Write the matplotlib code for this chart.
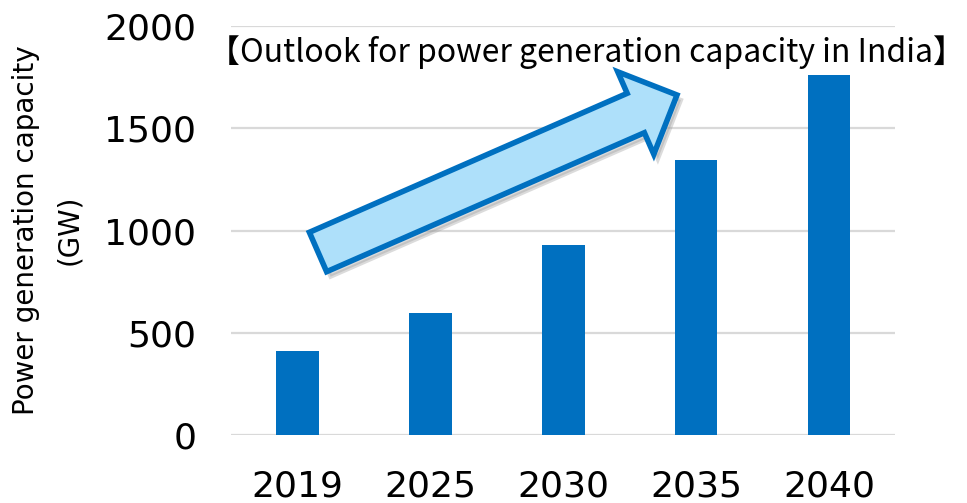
import matplotlib
matplotlib.use('Agg')

import matplotlib.pyplot as plt
from matplotlib.patches import FancyArrow
import numpy as np

##########
years = ['2019', '2025', '2030', '2035', '2040']
capacity_gw = [411, 597, 929, 1345, 1760]
yticks = [0, 500, 1000, 1500, 2000]

title_txt = '【Outlook for power generation capacity in India】'
ylabel_txt = 'Power generation capacity\n(GW)'

##########
BLUE = '#0070C0'
LIGHT = '#AEE0FA'
GRID = '#D9D9D9'

fig = plt.figure(figsize=(9.67, 5.03), dpi=100)
ax = fig.add_axes([0.239, 0.135, 0.687, 0.813])

x = np.arange(len(years))
ax.bar(x, capacity_gw, width=0.32, color=BLUE, zorder=3)

ax.set_xlim(-0.5, len(years) - 0.5)
ax.set_ylim(0, 2000)
ax.set_yticks(yticks)
ax.set_xticks(x)
ax.set_xticklabels(years)
ax.yaxis.grid(True, color=GRID, linewidth=1.6, zorder=0)
ax.set_axisbelow(True)
for s in ax.spines.values():
    s.set_visible(False)
ax.tick_params(axis='both', length=0, labelsize=26, colors='black')
ax.tick_params(axis='x', pad=25)
ax.tick_params(axis='y', pad=25)

fig.text(0.049, 0.543, ylabel_txt, rotation=90, ha='center', va='center',
         fontsize=20, linespacing=1.7)

# decorative arrow, drawn in figure inches (100 px per inch)
tail = (3.18, 5.03 - 2.52)
tip = (6.77, 5.03 - 0.95)
dx, dy = tip[0] - tail[0], tip[1] - tail[1]
arr_kw = dict(width=0.43, head_width=0.90, head_length=0.45,
              length_includes_head=True, transform=fig.dpi_scale_trans)
shadow = FancyArrow(tail[0] + 0.04, tail[1] - 0.05, dx, dy, color='#999999',
                    alpha=0.35, lw=3, **arr_kw)
fig.add_artist(shadow)
arrow = FancyArrow(tail[0], tail[1], dx, dy, facecolor=LIGHT, edgecolor=BLUE,
                   lw=4, joinstyle='miter', **arr_kw)
fig.add_artist(arrow)

fig.text(0.606, 0.897, title_txt, ha='center', va='center', fontsize=23,
         family=['Noto Sans CJK JP', 'DejaVu Sans'])

fig.savefig('out.png', dpi=100)
